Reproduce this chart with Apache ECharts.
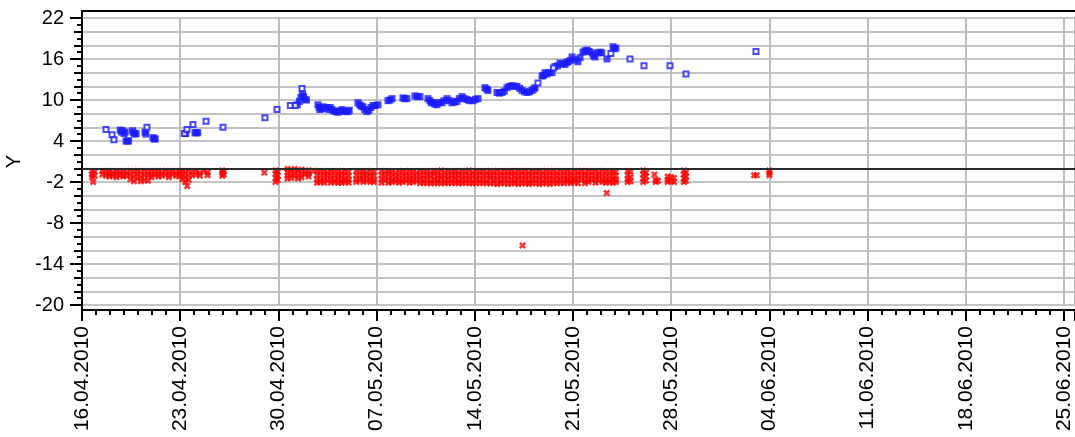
<!DOCTYPE html>
<html>
<head>
<meta charset="utf-8">
<script src="https://cdn.jsdelivr.net/npm/echarts@6/dist/echarts.min.js"></script>
<style>
  html, body { margin: 0; padding: 0; background: #fff; }
  #main { width: 1075px; height: 437px; }
</style>
</head>
<body>
<div id="main"></div>
<script>
// x values are days after 16.04.2010
var xTickLabels = ['16.04.2010', '23.04.2010', '30.04.2010', '07.05.2010', '14.05.2010', '21.05.2010',
    '28.05.2010', '04.06.2010', '11.06.2010', '18.06.2010', '25.06.2010'];
var xMin = 0, xMax = 70.78, xStep = 7;
var yMin = -20, yMax = 22, yLabelStep = 6, yGridStep = 2;

// blue squares standing alone [day, value]
var blueSingle = [
    [1.71,5.7],[2.14,4.9],[2.28,4.2],[4.63,6.0],
    [7.3,5.1],[7.48,5.7],[7.91,6.4],[8.84,6.9],[10.05,6.0],
    [13.04,7.4],[13.9,8.6],[14.85,9.2],[15.2,9.2],[15.68,11.7],
    [32.5,12.5],[33.6,14.7],[37.7,16.8],
    [39.06,16.0],[40.06,15.0],[41.91,15.0],[43.05,13.8],[48.04,17.1]
];

// blue squares packed in runs [day, value]
var blueRuns = [
    [2.72,5.6],[2.82,5.3],[2.9,5.5],[3.0,5.1],[3.08,5.3],[3.14,4.0],[3.24,4.0],[3.32,4.0],
    [3.6,5.5],[3.68,5.2],[3.76,5.0],[3.86,5.1],[4.49,5.3],[4.56,5.0],[5.06,4.5],[5.14,4.3],[5.22,4.3],
    [7.4,5.1],[8.05,5.2],[8.15,5.2],[8.25,5.2],
    [15.35,9.3],[15.5,9.8],[15.6,10.4],[15.72,10.9],[15.8,10.5],[15.9,10.1],[16.0,10.0],
    [16.82,9.3],[16.9,8.9],[16.96,8.6],[17.1,8.7],[17.2,9.0],[17.3,8.8],[17.46,8.9],[17.6,8.6],[17.7,8.9],[17.82,8.6],[17.95,8.4],
    [18.1,8.3],[18.25,8.2],[18.4,8.4],[18.53,8.6],[18.65,8.4],[18.8,8.3],[18.96,8.3],[19.05,8.5],
    [19.67,9.6],[19.8,9.3],[19.9,9.1],[20.03,9.0],[20.15,8.6],[20.31,8.3],[20.45,8.5],[20.6,8.9],[20.74,9.2],[20.9,9.2],[21.1,9.3],
    [21.81,9.9],[21.95,10.0],[22.1,10.2],[22.88,10.3],[23.0,10.2],[23.16,10.2],[23.73,10.6],[23.9,10.5],[24.09,10.5],
    [24.66,10.2],[24.8,9.9],[24.9,9.6],[25.02,9.6],[25.15,9.4],[25.3,9.3],[25.45,9.6],[25.66,9.6],[25.8,9.9],[26.02,10.2],
    [26.2,9.9],[26.37,9.6],[26.55,9.7],[26.73,9.8],[26.9,10.2],[27.09,10.5],[27.25,10.2],[27.44,10.1],[27.6,9.9],[27.87,9.9],[28.05,10.1],[28.23,10.2],
    [28.72,11.8],[28.85,11.6],[28.94,11.4],[29.58,11.1],[29.75,11.0],[29.94,11.1],[30.1,11.3],[30.29,11.8],[30.45,12.0],[30.65,12.1],
    [30.85,12.0],[31.0,12.0],[31.2,11.7],[31.36,11.4],[31.55,11.2],[31.72,11.1],[31.9,11.2],[32.07,11.4],[32.2,11.6],[32.29,11.8],
    [32.79,13.5],[32.9,13.6],[33.0,14.0],[33.14,13.8],[33.3,14.0],[33.5,14.0],[33.71,14.9],[33.9,15.0],
    [34.07,15.4],[34.25,15.3],[34.43,15.2],[34.55,15.5],[34.64,15.6],[34.8,15.8],[34.93,16.3],[35.14,15.9],[35.35,15.6],[35.5,16.2],
    [35.71,17.0],[35.85,17.2],[36.0,17.3],[36.15,17.1],[36.35,16.9],[36.45,16.5],[36.56,16.3],[36.78,16.9],[36.92,17.0],[37.05,16.9],
    [37.42,16.0],[37.85,17.8],[37.95,17.5],[38.06,17.6]
];

// red crosses, each row: [day, value, value, ...]
var redRows = [
    [0.72,-0.4,-0.9,-1.3],[0.8,-2.0],[0.9,-0.5,-1.1],
    [1.45,-0.4,-0.9],[1.7,-0.5,-1.1],[1.95,-0.4,-0.8,-1.2],[2.2,-0.6,-1.1],[2.45,-0.4,-0.9,-1.3],[2.7,-0.5,-1.0],[2.95,-0.4,-0.9,-1.2],[3.2,-0.6,-1.1],
    [3.45,-0.4,-1.0,-1.6],[3.7,-0.5,-1.2,-1.9],[3.95,-0.4,-0.9,-1.5],[4.2,-0.6,-1.3,-1.9],[4.45,-0.4,-1.0,-1.7],[4.7,-0.5,-1.1,-1.8],
    [4.95,-0.4,-0.9,-1.3],[5.2,-0.5,-1.0],[5.45,-0.4,-0.8,-1.2],[5.7,-0.6,-1.1],[5.95,-0.4,-0.9],[6.2,-0.5,-1.0,-1.3],[6.45,-0.4,-0.9],[6.7,-0.6,-1.1],[6.95,-0.4,-0.8,-1.2],
    [7.15,-0.4,-1.0,-1.6],[7.35,-0.6,-1.3,-2.0],[7.5,-2.6],[7.6,-0.4,-1.1,-1.7],
    [7.85,-0.5,-1.0],[8.1,-0.4,-0.9],[8.4,-0.7,-1.1],[8.7,-0.4],[8.95,-0.6,-1.0],
    [10.0,-0.3,-0.7,-1.1],[10.1,-0.5,-0.9],
    [13.0,-0.6],
    [13.8,-0.3,-0.8,-1.4,-2.0],[13.95,-0.5,-1.1,-1.7],
    [14.65,-0.1,-0.6,-1.1,-1.5],[14.9,-0.3,-0.9,-1.4],[15.15,-0.1,-0.7,-1.2],[15.4,-0.4,-1.0,-1.5],[15.65,-0.2,-0.8,-1.3],[15.9,-0.4,-0.9],[16.15,-0.3,-0.8,-1.2],
    [16.5,-0.4],
    [16.75,-0.4,-1.0,-1.6,-2.1],[17.0,-0.5,-1.1,-1.7,-2.0],[17.25,-0.4,-0.9,-1.5,-2.1],[17.5,-0.6,-1.2,-1.8],[17.75,-0.4,-1.0,-1.6,-2.1],
    [18.0,-0.5,-1.1,-1.7,-2.0],[18.25,-0.4,-0.9,-1.5,-2.1],[18.5,-0.6,-1.2,-1.8,-2.1],[18.75,-0.4,-1.0,-1.6,-2.0],[19.0,-0.5,-1.1,-1.7,-2.1],
    [19.55,-0.4,-1.0,-1.6,-2.0],[19.8,-0.5,-1.1,-1.7],[20.05,-0.4,-0.9,-1.5,-2.0],[20.3,-0.6,-1.2,-1.8],[20.55,-0.4,-1.0,-1.6,-2.0],[20.8,-0.5,-1.1,-1.7,-2.0],
    [21.35,-0.4,-1.0,-1.6,-2.1],[21.6,-0.6,-1.2,-1.8],[21.85,-0.4,-0.9,-1.5,-2.1],[22.1,-0.5,-1.1,-1.7,-2.0],[22.35,-0.7,-1.3,-1.9],
    [22.6,-0.4,-1.0,-1.6,-2.1],[22.85,-0.5,-1.1,-1.7,-2.0],[23.1,-0.6,-1.2,-1.8],[23.35,-0.4,-1.0,-1.6,-2.1],[23.6,-0.5,-1.1,-1.7,-2.0],
    [23.85,-0.7,-1.3,-1.9],[24.1,-0.4,-1.0,-1.6,-2.2],[24.35,-0.5,-1.1,-1.7,-2.1],[24.6,-0.4,-1.0,-1.6,-2.2],[24.85,-0.6,-1.2,-1.8,-2.2],
    [25.1,-0.4,-0.9,-1.6,-2.2],[25.35,-0.5,-1.1,-1.7,-2.1],[25.6,-0.3,-1.0,-1.5,-2.2],[25.85,-0.6,-1.2,-1.8,-2.2],[26.1,-0.4,-1.0,-1.6,-2.1],
    [26.35,-0.5,-1.1,-1.7,-2.2],[26.6,-0.4,-0.9,-1.5,-2.1],[26.85,-0.6,-1.2,-1.8,-2.2],[27.1,-0.4,-1.0,-1.6,-2.2],[27.35,-0.5,-1.1,-1.7,-2.1],
    [27.6,-0.3,-1.0,-1.6,-2.2],[27.85,-0.6,-1.2,-1.8,-2.2],[28.1,-0.4,-1.0,-1.6,-2.2],[28.35,-0.5,-1.1,-1.7,-2.1],[28.6,-0.4,-1.0,-1.6,-2.2],
    [28.85,-0.6,-1.2,-1.8,-2.2],[29.1,-0.4,-1.0,-1.5,-2.2],[29.35,-0.5,-1.1,-1.7,-2.2],[29.6,-0.4,-1.0,-1.6,-2.3],[29.85,-0.6,-1.2,-1.8,-2.2],
    [30.1,-0.4,-1.0,-1.6,-2.2],[30.35,-0.5,-1.1,-1.7,-2.3],[30.6,-0.4,-0.9,-1.6,-2.2],[30.85,-0.6,-1.2,-1.8,-2.2],[31.1,-0.4,-1.0,-1.6,-2.3],
    [31.35,-0.5,-1.1,-1.7,-2.2],[31.4,-11.3],[31.6,-0.4,-1.0,-1.6,-2.2],[31.85,-0.6,-1.2,-1.8,-2.3],[32.1,-0.4,-1.0,-1.6,-2.2],
    [32.35,-0.5,-1.1,-1.7,-2.2],[32.6,-0.4,-1.0,-1.6,-2.3],[32.85,-0.6,-1.2,-1.8,-2.2],[33.1,-0.4,-1.0,-1.6,-2.2],[33.35,-0.5,-1.1,-1.7,-2.3],
    [33.6,-0.4,-1.0,-1.6,-2.1],[33.85,-0.6,-1.2,-1.8,-2.2],[34.1,-0.4,-1.0,-1.6,-2.1],[34.35,-0.5,-1.1,-1.7,-2.2],[34.6,-0.4,-1.0,-1.6,-2.0],
    [34.85,-0.6,-1.2,-1.8,-2.2],[35.1,-0.4,-1.0,-1.6,-2.0],[35.35,-0.5,-1.1,-1.7,-2.2],[35.6,-0.4,-1.0,-1.6],[35.85,-0.6,-1.2,-1.8,-2.2],
    [36.1,-0.4,-1.0,-1.6,-2.0],[36.35,-0.5,-1.1,-1.7],[36.6,-0.4,-1.0,-1.6,-2.1],[36.85,-0.6,-1.2,-1.8],[37.1,-0.4,-1.0,-1.6,-2.0],
    [37.35,-0.5,-1.1,-1.7,-2.1],[37.4,-3.6],[37.6,-0.6,-1.2,-1.8,-2.0],[37.85,-0.4,-1.0,-1.6,-2.1],[38.05,-0.5,-1.1,-1.7,-2.0],
    [38.9,-0.4,-1.0,-1.6,-2.0],[39.1,-0.5,-1.3,-1.9],
    [40.0,-0.3,-0.9,-1.5,-2.0],[40.2,-0.6,-1.2,-1.8],
    [40.8,-0.9],[40.9,-1.7,-2.0],[41.05,-1.8],
    [41.75,-1.2,-1.7,-2.0],[42.0,-1.3,-1.9],[42.2,-1.4,-2.0],
    [42.9,-0.3,-0.9,-1.5,-2.0],[43.05,-0.6,-1.2,-1.8],
    [47.9,-1.0],[48.1,-1.0],
    [49.0,-0.3,-0.7,-1.0]
];

var redPoints = [];
redRows.forEach(function (row) {
    for (var i = 1; i < row.length; i++) redPoints.push([row[0], row[i]]);
});

var font = 'Liberation Sans, Arial, sans-serif';
var crossPath = 'path://M0,2.5L2.5,0L5,2.5L7.5,0L10,2.5L7.5,5L10,7.5L7.5,10L5,7.5L2.5,10L0,7.5L2.5,5Z';

var myChart = echarts.init(document.getElementById('main'));
var option = {
    animation: false,
    grid: [
        { left: 82, right: 0, top: 18, bottom: 132, outerBoundsMode: 'none', containLabel: false },
        // frame around plot area
        { left: 82, right: -5, top: 11, bottom: 127, outerBoundsMode: 'none', show: true,
          borderColor: '#000', borderWidth: 2, backgroundColor: 'transparent' }
    ],
    xAxis: [{
        type: 'value',
        gridIndex: 0,
        min: xMin, max: xMax, interval: xStep,
        offset: 5,
        axisLine: { show: true, onZero: false, lineStyle: { color: '#000', width: 2 } },
        axisTick: { show: true, length: 11, lineStyle: { color: '#000', width: 2 } },
        minorTick: { show: true, splitNumber: 7, length: 5, lineStyle: { color: '#000', width: 2 } },
        splitLine: { show: true, lineStyle: { color: '#bdbdbd', width: 2 } },
        axisLabel: {
            rotate: 90, margin: 16, fontSize: 21, color: '#000', fontFamily: font,
            showMaxLabel: false,
            formatter: function (v) {
                var k = v / xStep;
                return Math.abs(k - Math.round(k)) < 1e-6 ? (xTickLabels[Math.round(k)] || '') : '';
            }
        }
    }, {
        gridIndex: 1, type: 'value', show: false
    }],
    yAxis: [{
        type: 'value',
        gridIndex: 0,
        position: 'left',
        min: yMin, max: yMax, interval: yGridStep,
        axisLine: { show: true, onZero: false, lineStyle: { color: '#000', width: 2 } },
        axisTick: { show: true, length: 8, lineStyle: { color: '#000', width: 2 } },
        minorTick: { show: true, splitNumber: 2, length: 5, lineStyle: { color: '#000', width: 2 } },
        splitLine: { show: true, lineStyle: { color: '#c4c4c4', width: 2 } },
        axisLabel: { show: false }
    }, {
        type: 'value',
        gridIndex: 0,
        position: 'left',
        min: yMin, max: yMax, interval: yLabelStep,
        name: 'Y',
        nameLocation: 'middle',
        nameGap: 55,
        nameRotate: 90,
        nameTextStyle: { fontSize: 20, color: '#000', fontFamily: font },
        axisLine: { show: false },
        axisTick: { show: true, length: 12, lineStyle: { color: '#000', width: 2 } },
        splitLine: { show: false },
        axisLabel: { margin: 18, fontSize: 20, color: '#000', fontFamily: font }
    }, {
        gridIndex: 1, type: 'value', show: false
    }],
    series: [{
        type: 'scatter',
        xAxisIndex: 0,
        yAxisIndex: 0,
        data: redPoints,
        symbol: crossPath,
        symbolSize: 7,
        itemStyle: { color: '#ff0000' },
        markLine: {
            silent: true,
            symbol: 'none',
            label: { show: false },
            lineStyle: { color: '#2a2a2a', width: 2, type: 'solid' },
            data: [{ yAxis: 0 }]
        },
        z: 3
    }, {
        type: 'scatter',
        xAxisIndex: 0,
        yAxisIndex: 0,
        data: blueRuns,
        symbol: 'rect',
        symbolSize: 7,
        itemStyle: { color: '#1a1aff' },
        z: 4
    }, {
        type: 'scatter',
        xAxisIndex: 0,
        yAxisIndex: 0,
        data: blueSingle,
        symbol: 'rect',
        symbolSize: 5,
        itemStyle: { color: '#ffffff', borderColor: '#1a1aff', borderWidth: 2 },
        z: 5
    }]
};
myChart.setOption(option);
</script>
</body>
</html>
